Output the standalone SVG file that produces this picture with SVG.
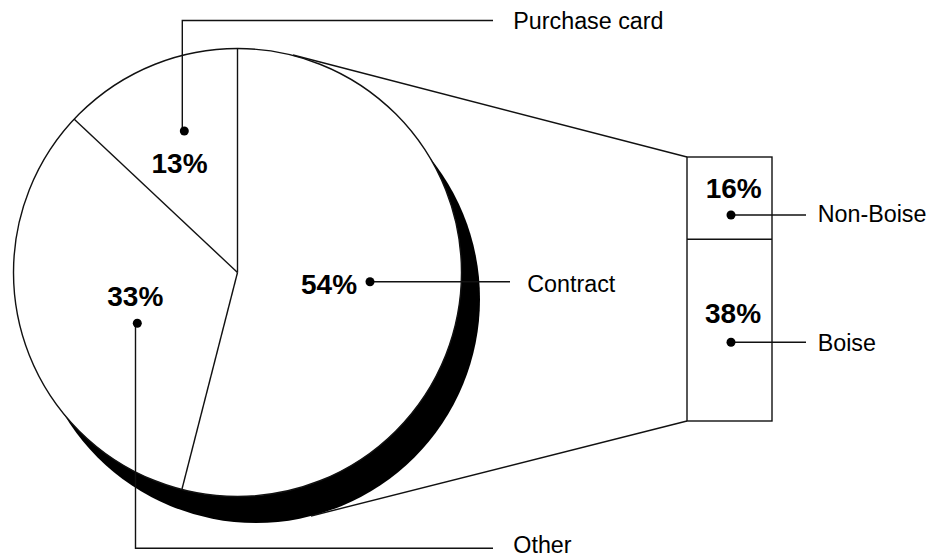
<svg xmlns="http://www.w3.org/2000/svg" width="940" height="558" viewBox="0 0 940 558">
<style>
.ln{fill:none;stroke:#111;stroke-width:1.4}
.wf{fill:#fff;stroke:#111;stroke-width:1.4}
.pct{font-family:"Liberation Sans",Arial,sans-serif;font-weight:bold;font-size:28px;fill:#000}
.lbl{font-family:"Liberation Sans",Arial,sans-serif;font-size:23.3px;fill:#000}
.dot{fill:#000}
</style>
<rect width="940" height="558" fill="#fff"/>
<g id="pie">
<circle cx="256" cy="299" r="224" fill="#000"/>
<circle class="wf" cx="237.5" cy="272.5" r="224"/>
<line class="ln" x1="237.5" y1="272.5" x2="237.5" y2="48.5"/>
<line class="ln" x1="237.5" y1="272.5" x2="74" y2="119"/>
<line class="ln" x1="237.5" y1="272.5" x2="182" y2="489"/>
</g>
<g id="breakout">
<rect class="wf" x="687" y="157" width="85" height="264"/>
<line class="ln" x1="687" y1="239.3" x2="772" y2="239.3"/>
</g>
<g id="connectors">
<line class="ln" x1="293" y1="55" x2="687" y2="157"/>
<line class="ln" x1="311" y1="516" x2="687" y2="421"/>
<polyline class="ln" points="184.3,131 182.3,131 182.3,20.5 493,20.5"/>
<polyline class="ln" points="137.3,323.3 135.5,323.3 135.5,548.3 493,548.3"/>
<line class="ln" x1="370" y1="281.7" x2="510" y2="281.7"/>
<line class="ln" x1="731" y1="215" x2="806" y2="215"/>
<line class="ln" x1="731" y1="342.3" x2="806" y2="342.3"/>
</g>
<g id="purchase-card">
<circle class="dot" cx="184.3" cy="131" r="4.5"/>
<text class="pct" x="151.5" y="173.3">13%</text>
<text class="lbl" x="513.3" y="28.5">Purchase card</text>
</g>
<g id="other">
<circle class="dot" cx="137.3" cy="323.3" r="4.5"/>
<text class="pct" x="107.3" y="306">33%</text>
<text class="lbl" x="513.3" y="553">Other</text>
</g>
<g id="contract">
<circle class="dot" cx="370" cy="281.7" r="4.5"/>
<text class="pct" x="301" y="294.3">54%</text>
<text class="lbl" x="527.3" y="292.3">Contract</text>
</g>
<g id="non-boise">
<circle class="dot" cx="731" cy="215" r="4.5"/>
<text class="pct" x="705.7" y="198.3">16%</text>
<text class="lbl" x="817.7" y="221.7">Non-Boise</text>
</g>
<g id="boise">
<circle class="dot" cx="731" cy="342.3" r="4.5"/>
<text class="pct" x="705" y="322.7">38%</text>
<text class="lbl" x="817.7" y="350.7">Boise</text>
</g>
</svg>
